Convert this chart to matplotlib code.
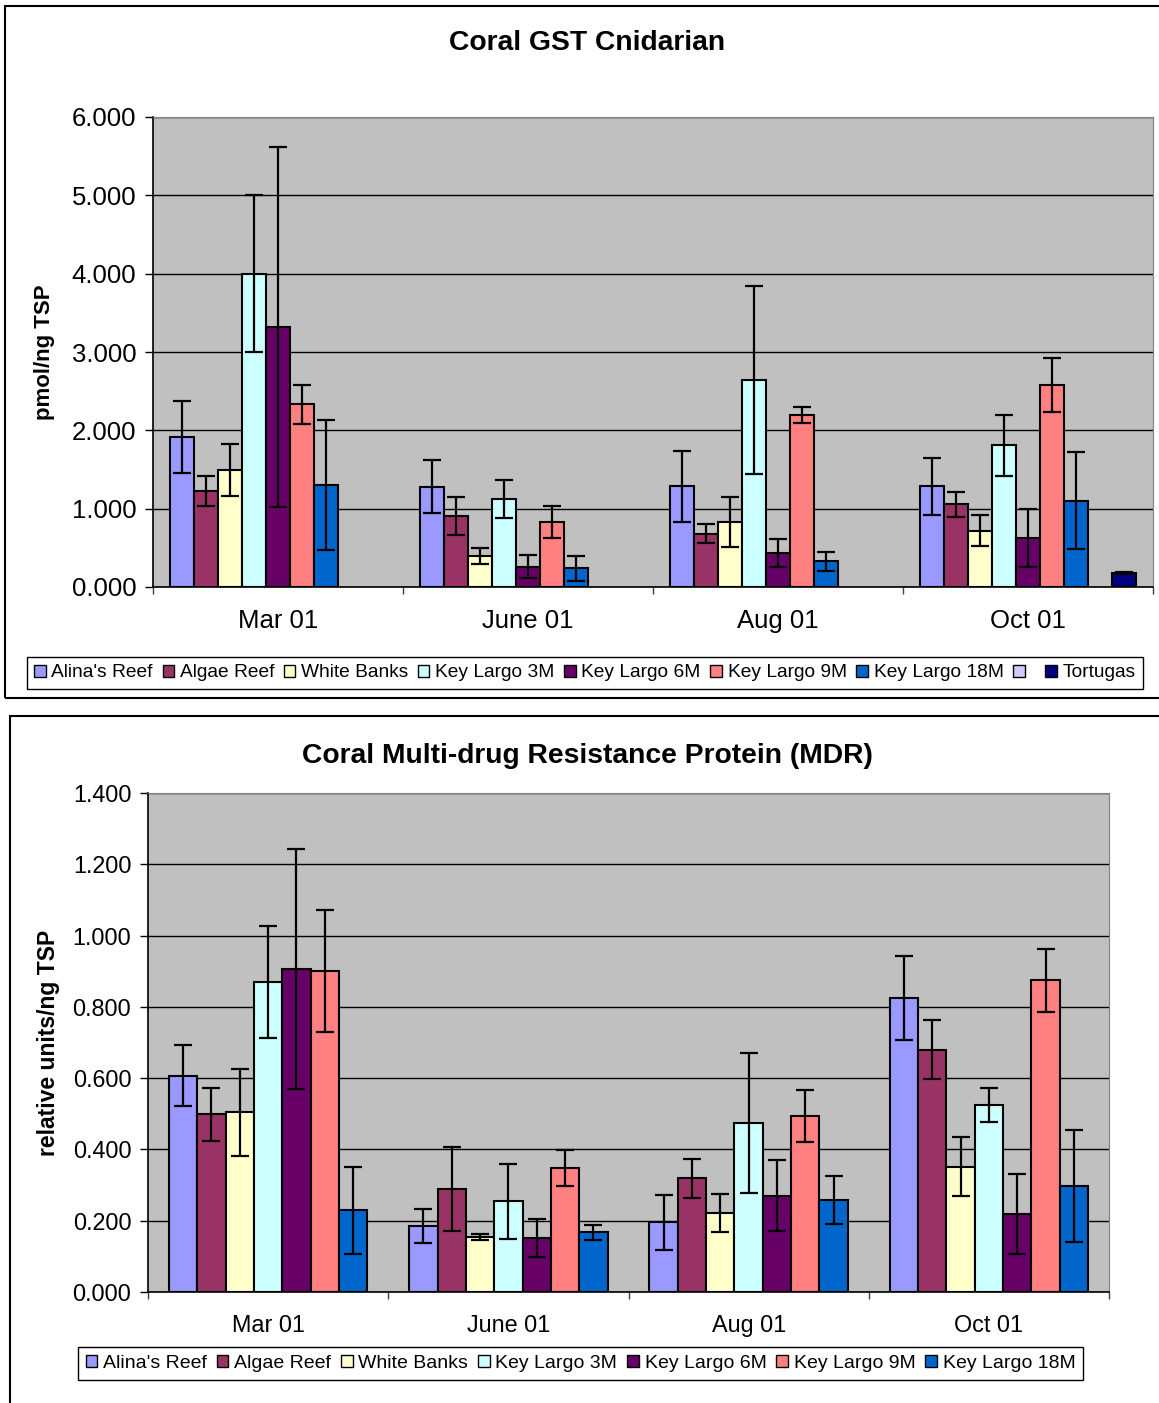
import matplotlib.pyplot as plt
import numpy as np
from matplotlib.patches import Patch, Rectangle

plt.rcParams['font.family'] = ['Liberation Sans', 'DejaVu Sans']

months = ['Mar 01', 'June 01', 'Aug 01', 'Oct 01']
sites = ["Alina's Reef", 'Algae Reef', 'White Banks', 'Key Largo 3M', 'Key Largo 6M',
         'Key Largo 9M', 'Key Largo 18M', ' ', 'Tortugas']
colors = ['#9999FF', '#993366', '#FFFFCC', '#CCFFFF', '#660066',
          '#FF8080', '#0066CC', '#CCCCFF', '#000080']

# GST (pmol/ng TSP), one row per site, columns = months
gst = [
    [1.91, 1.28, 1.285, 1.285],
    [1.225, 0.91, 0.68, 1.055],
    [1.49, 0.40, 0.83, 0.72],
    [4.00, 1.12, 2.64, 1.81],
    [3.32, 0.26, 0.43, 0.62],
    [2.33, 0.83, 2.20, 2.58],
    [1.30, 0.24, 0.33, 1.10],
    [np.nan, np.nan, np.nan, np.nan],
    [np.nan, np.nan, np.nan, 0.18],
]
gst_err = [
    [0.46, 0.34, 0.45, 0.36],
    [0.19, 0.24, 0.12, 0.16],
    [0.33, 0.10, 0.32, 0.20],
    [1.00, 0.24, 1.20, 0.39],
    [2.30, 0.15, 0.18, 0.37],
    [0.25, 0.20, 0.10, 0.34],
    [0.83, 0.16, 0.12, 0.62],
    [np.nan, np.nan, np.nan, np.nan],
    [np.nan, np.nan, np.nan, 0.01],
]

# MDR (relative units/ng TSP)
mdr = [
    [0.607, 0.185, 0.195, 0.826],
    [0.499, 0.288, 0.319, 0.680],
    [0.504, 0.155, 0.221, 0.351],
    [0.871, 0.254, 0.475, 0.524],
    [0.906, 0.152, 0.270, 0.220],
    [0.900, 0.347, 0.494, 0.874],
    [0.230, 0.167, 0.259, 0.298],
]
mdr_err = [
    [0.085, 0.047, 0.078, 0.118],
    [0.074, 0.118, 0.054, 0.083],
    [0.122, 0.008, 0.054, 0.083],
    [0.157, 0.105, 0.196, 0.047],
    [0.336, 0.053, 0.100, 0.112],
    [0.171, 0.050, 0.073, 0.088],
    [0.122, 0.022, 0.067, 0.157],
]

W, H = 1159, 1403
fig = plt.figure(figsize=(W / 100, H / 100), dpi=100)

# panel borders
fig.patches.append(Rectangle((5 / W, 1 - 698 / H), 1.2, 692 / H, transform=fig.transFigure,
                             fill=False, edgecolor='black', lw=1.5))
fig.patches.append(Rectangle((9.5 / W, -0.1), 1.2, 0.1 + 1 - 716 / H, transform=fig.transFigure,
                             fill=False, edgecolor='black', lw=1.5))


def draw(ax, vals, errs, nslot, pad, ymax, ystep, fs_tick, title, ylabel, fs_ylab, title_y, lpad):
    w = (1 - 2 * pad) / nslot
    ax.set_facecolor('#C0C0C0')
    ax.set_axisbelow(True)
    ax.grid(axis='y', color='black', lw=1)
    for k, (v, e) in enumerate(zip(vals, errs)):
        x = np.arange(len(months)) + pad + w * (k + 0.5)
        ax.bar(x, v, width=w, color=colors[k], edgecolor='black', lw=1.5, zorder=2)
        ax.errorbar(x, v, yerr=e, fmt='none', ecolor='black', elinewidth=1.6,
                    capsize=6.5, capthick=1.6, zorder=3)
    ax.set_xlim(0, len(months))
    ax.set_ylim(0, ymax)
    ax.set_yticks(np.arange(0, ymax + 1e-9, ystep))
    ax.set_yticklabels(['%.3f' % t for t in np.arange(0, ymax + 1e-9, ystep)], fontsize=fs_tick)
    ax.set_xticks(np.arange(len(months) + 1))
    ax.set_xticklabels([])
    ax.set_xticks(np.arange(len(months)) + 0.5, minor=True)
    ax.set_xticklabels(months, minor=True, fontsize=fs_tick)
    ax.tick_params(axis='x', which='major', length=5, width=1, color='#404040')
    ax.tick_params(axis='x', which='minor', length=0, pad=16)
    ax.tick_params(axis='y', length=6, width=1, pad=6)
    for s in ['top', 'right']:
        ax.spines[s].set_color('#808080')
    ax.spines['left'].set_linewidth(1.2)
    ax.spines['bottom'].set_linewidth(1.2)
    ax.set_ylabel(ylabel, fontsize=fs_ylab, fontweight='bold', labelpad=lpad)
    fig.text(0.5065, title_y, title, ha='center', va='center', fontsize=20.3, fontweight='bold')


ax1 = fig.add_axes([153 / W, 1 - 587 / H, 1000 / W, 470 / H])
draw(ax1, gst, gst_err, 9, 0.068, 6.0, 1.0, 18.5, 'Coral GST Cnidarian', 'pmol/ng TSP', 16,
     1 - 43 / H, 12)

ax2 = fig.add_axes([148 / W, 1 - 1292 / H, 961 / W, 499 / H])
draw(ax2, mdr, mdr_err, 7, 0.087, 1.4, 0.2, 16.8, 'Coral Multi-drug Resistance Protein (MDR)',
     'relative units/ng TSP', 16.5, 1 - 756 / H, 9)

handles = [Patch(facecolor=c, edgecolor='black', lw=1) for c in colors]
leg_kw = dict(ncol=9, loc='center', fancybox=False, edgecolor='black', framealpha=1,
              handlelength=0.6, handleheight=0.6, handletextpad=0.3, columnspacing=0.5,
              borderpad=0.4, fontsize=13.8)
l1 = fig.legend(handles, sites, bbox_to_anchor=(585 / W, 1 - 673 / H), **leg_kw)
l1.get_frame().set_linewidth(1)
leg_kw['ncol'] = 7
leg_kw['fontsize'] = 14
l2 = fig.legend(handles[:7], sites[:7], bbox_to_anchor=(580.5 / W, 1 - 1363.5 / H), **leg_kw)
l2.get_frame().set_linewidth(1)

fig.savefig('out.png', dpi=100)
